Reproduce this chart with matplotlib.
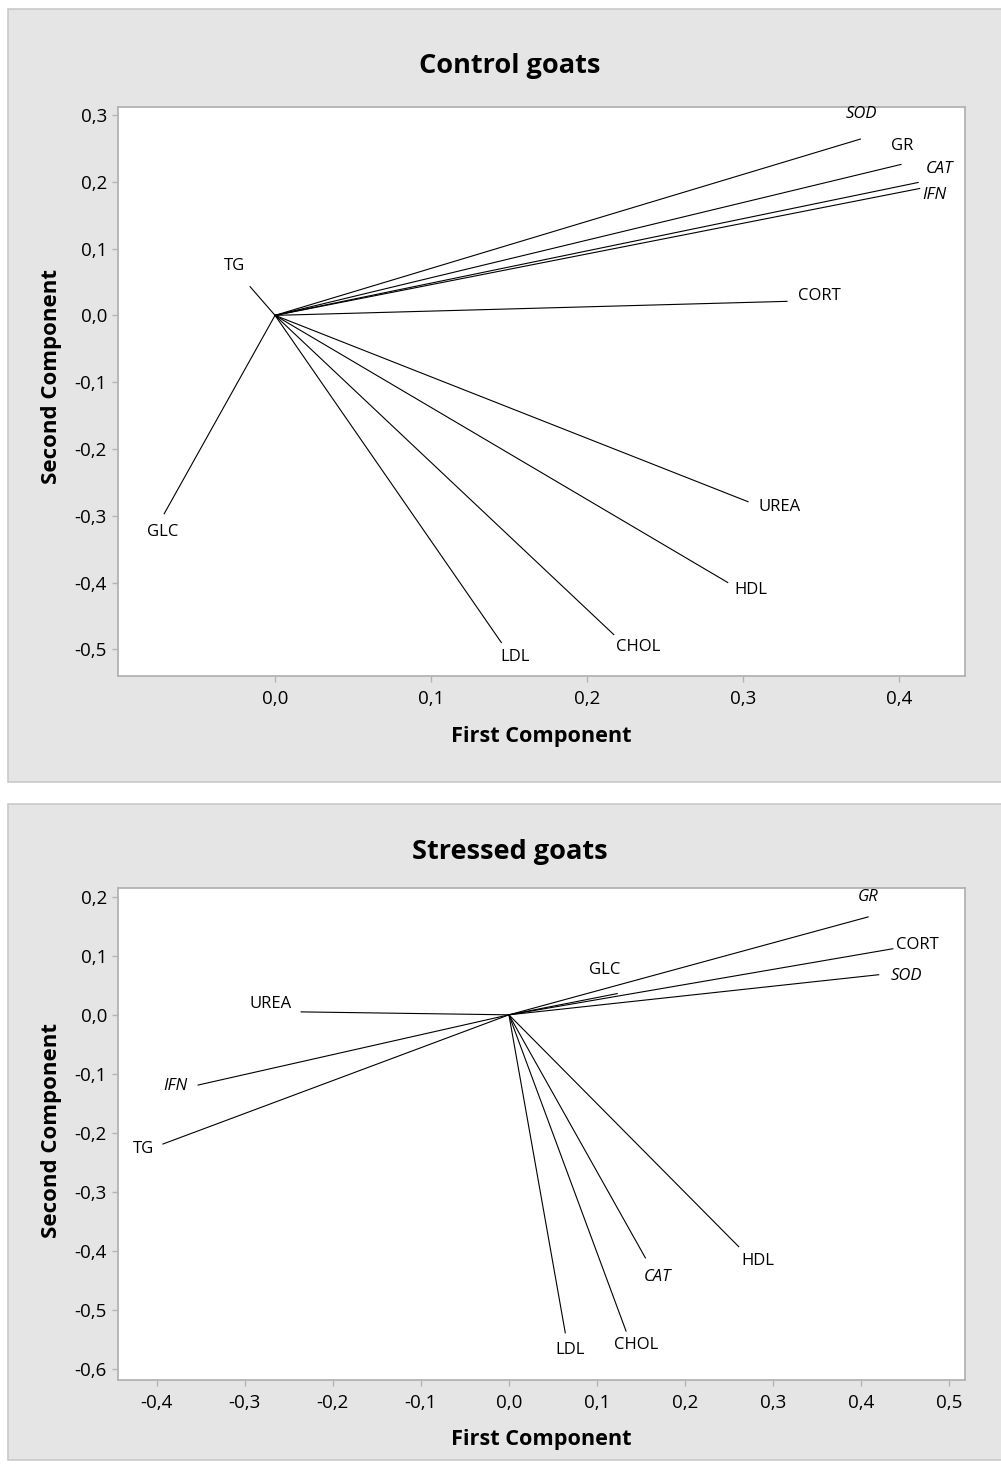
import matplotlib.pyplot as plt
from matplotlib.patches import Rectangle

plt.rcParams['font.family'] = ['Open Sans', 'DejaVu Sans']

# loadings, control goats
ctrl_names = ["SOD", "GR", "CAT", "IFN", "CORT", "TG", "GLC", "UREA", "HDL", "CHOL", "LDL"]
ctrl_pc1 = [0.375, 0.401, 0.412, 0.413, 0.328, -0.016, -0.071, 0.303, 0.290, 0.217, 0.145]
ctrl_pc2 = [0.264, 0.226, 0.199, 0.190, 0.021, 0.043, -0.297, -0.279, -0.400, -0.478, -0.490]
ctrl_italic = ["SOD", "CAT", "IFN"]

# loadings, stressed goats
str_names = ["GR", "CORT", "SOD", "GLC", "UREA", "IFN", "TG", "HDL", "CAT", "CHOL", "LDL"]
str_pc1 = [0.408, 0.436, 0.420, 0.123, -0.236, -0.353, -0.393, 0.261, 0.155, 0.133, 0.064]
str_pc2 = [0.166, 0.112, 0.068, 0.036, 0.005, -0.119, -0.219, -0.393, -0.412, -0.536, -0.539]
str_italic = ["GR", "SOD", "IFN", "CAT"]

ctrl_yticks = [0.3, 0.2, 0.1, 0.0, -0.1, -0.2, -0.3, -0.4, -0.5]
ctrl_xticks = [0.0, 0.1, 0.2, 0.3, 0.4]
str_yticks = [0.2, 0.1, 0.0, -0.1, -0.2, -0.3, -0.4, -0.5, -0.6]
str_xticks = [-0.4, -0.3, -0.2, -0.1, 0.0, 0.1, 0.2, 0.3, 0.4, 0.5]

# label offsets in pixels (dx right, dy down)
ctrl_offsets = {"SOD": (1, -25), "GR": (1, -18), "CAT": (21, -13), "IFN": (15, 7),
                "CORT": (32, -5), "TG": (-16, -21), "GLC": (-2, 18), "UREA": (32, 5),
                "HDL": (23, 7), "CHOL": (24, 12), "LDL": (14, 14)}
str_offsets = {"GR": (0, -20), "CORT": (25, -4), "SOD": (28, 1), "GLC": (-13, -24),
               "UREA": (-31, -8), "IFN": (-23, 1), "TG": (-19, 5), "HDL": (19, 14),
               "CAT": (12, 19), "CHOL": (10, 14), "LDL": (5, 17)}

W, H = 1001, 1466
fig = plt.figure(figsize=(W / 100, H / 100), dpi=100)
fig.patch.set_facecolor("white")

BG = "#e5e5e5"
EDGE = "#c9c9c9"
SPINE = "#b3b3b3"


def px_rect(x0, y0, x1, y1):
    return [x0 / W, 1 - y1 / H, (x1 - x0) / W, (y1 - y0) / H]


def comma(v):
    return f"{v:.1f}".replace(".", ",")


def biplot(panel, axbox, names, pc1, pc2, italic, offsets, xlim, ylim, xticks, yticks,
           title, title_y, ylab_y):
    x0, y0, x1, y1 = panel
    fig.patches.append(Rectangle((x0 / W, 1 - y1 / H), (x1 - x0) / W, (y1 - y0) / H,
                                 transform=fig.transFigure, facecolor=BG,
                                 edgecolor=EDGE, lw=1.2, zorder=-5))
    ax = fig.add_axes(px_rect(*axbox))
    ax.set_zorder(2)
    ax.set_facecolor("white")
    for name, x, y in zip(names, pc1, pc2):
        ax.plot([0, x], [0, y], color="black", lw=0.8)
        dx, dy = offsets[name]
        ax.annotate(name, (x, y), xytext=(dx, -dy), textcoords="offset pixels",
                    ha="center", va="center", fontsize=12,
                    style="italic" if name in italic else "normal")
    ax.set_xlim(*xlim)
    ax.set_ylim(*ylim)
    ax.set_xticks(xticks)
    ax.set_xticklabels([comma(v) for v in xticks])
    ax.set_yticks(yticks)
    ax.set_yticklabels([comma(v) for v in yticks])
    for s in ax.spines.values():
        s.set_color(SPINE)
        s.set_linewidth(1.3)
    ax.tick_params(axis="both", colors=SPINE, labelcolor="black", labelsize=13.5,
                   length=4, width=1, pad=4)
    ax.tick_params(axis="x", pad=6)
    fig.text(510 / W, 1 - (title_y + 2) / H, title, ha="center", va="center",
             fontsize=19.5, fontweight="bold")
    fig.text((axbox[0] + axbox[2]) / 2 / W, 1 - (axbox[3] + 60) / H, "First Component",
             ha="center", va="center", fontsize=15.6, fontweight="bold")
    fig.text(52 / W, 1 - ylab_y / H, "Second Component", ha="center", va="center",
             rotation=90, fontsize=16, fontweight="bold")
    return ax


biplot((8, 9, 1010, 782), (118, 107, 965, 676), ctrl_names, ctrl_pc1, ctrl_pc2,
       ctrl_italic, ctrl_offsets, (-0.1006, 0.442), (-0.540, 0.312),
       ctrl_xticks, ctrl_yticks, "Control goats", 64, 376)

biplot((8, 804, 1010, 1460), (118, 888, 965, 1380), str_names, str_pc1, str_pc2,
       str_italic, str_offsets, (-0.444, 0.518), (-0.619, 0.215),
       str_xticks, str_yticks, "Stressed goats", 850, 1130)

fig.savefig("out.png", dpi=100)
